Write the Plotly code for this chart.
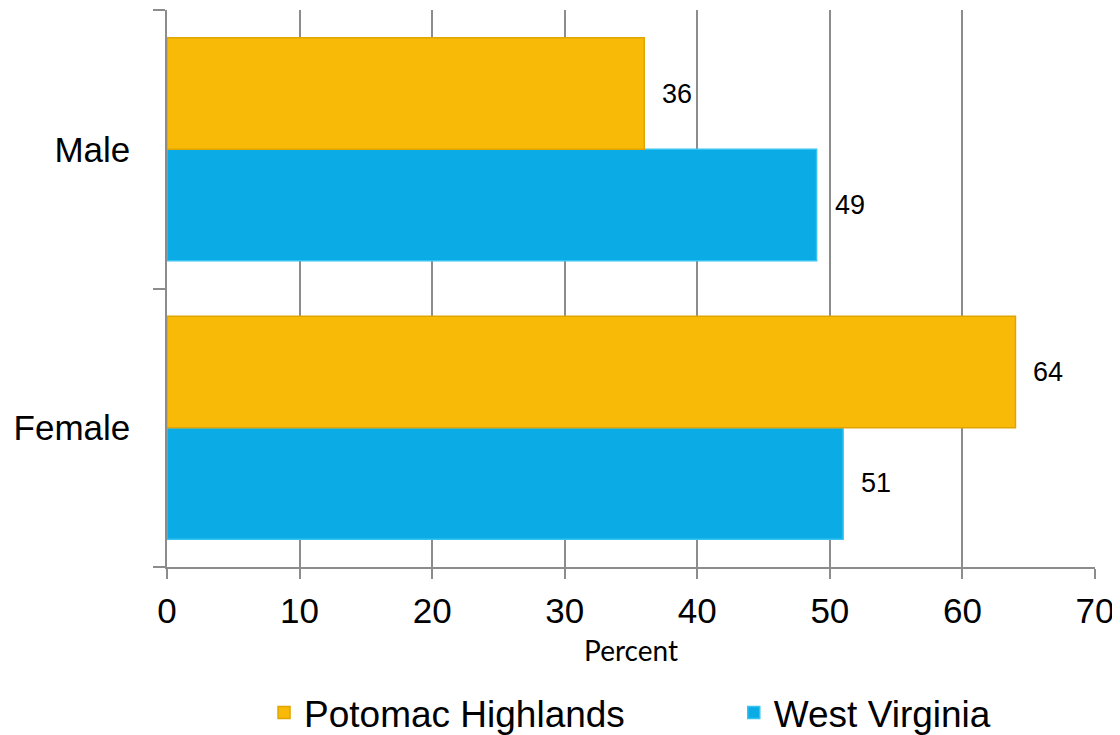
import plotly.graph_objects as go

categories = ["Female", "Male"]
potomac = [64, 36]
west_virginia = [51, 49]
x_ticks = [0, 10, 20, 30, 40, 50, 60, 70]

GOLD = "#F8BA06"
BLUE = "#0BABE6"
FONT = "Liberation Sans, Arial, sans-serif"

fig = go.Figure()
fig.add_trace(go.Bar(
    y=categories, x=west_virginia, orientation="h", name="West Virginia",
    marker=dict(color=BLUE, line=dict(color="#35C3F2", width=1.5)),
    legend="legend2",
))
fig.add_trace(go.Bar(
    y=categories, x=potomac, orientation="h", name="Potomac Highlands",
    marker=dict(color=GOLD, line=dict(color="#E0A500", width=1.5)),
    legend="legend",
))

# value labels: Potomac bar sits at index+0.2, West Virginia at index-0.2
for i, c in enumerate(categories):
    fig.add_annotation(x=potomac[i], y=i + 0.2, text=str(potomac[i]), showarrow=False,
                       xanchor="left", xshift=16,
                       font=dict(size=27, color="black", family=FONT))
    fig.add_annotation(x=west_virginia[i], y=i - 0.2, text=str(west_virginia[i]), showarrow=False,
                       xanchor="left", xshift=16,
                       font=dict(size=27, color="black", family=FONT))

legend_common = dict(orientation="h", xref="container", yref="container",
                     xanchor="left", y=0.041, yanchor="middle",
                     font=dict(size=37, family=FONT))

fig.update_layout(
    width=1120, height=735,
    margin=dict(l=159, r=33, t=2, b=176, autoexpand=False),
    plot_bgcolor="white", paper_bgcolor="white",
    barmode="group", bargap=0.2, bargroupgap=0,
    font=dict(family=FONT, color="black"),
    showlegend=True,
    legend=dict(x=0.2286, **legend_common),
    legend2=dict(x=0.648, **legend_common),
)
fig.update_xaxes(
    range=[0, 70], tickvals=x_ticks, ticktext=[str(t) for t in x_ticks],
    showgrid=True, gridcolor="#8C8C8C", gridwidth=1.5,
    showline=True, linecolor="#8C8C8C", linewidth=1.5,
    ticks="outside", ticklen=10, tickcolor="#8C8C8C", tickwidth=1.5,
    tickfont=dict(size=35, family=FONT), zeroline=False, ticklabelstandoff=2,
    title=dict(text="Percent", font=dict(size=28, family="Lato, Open Sans, sans-serif"), standoff=13),
)
fig.update_yaxes(
    showline=True, linecolor="#8C8C8C", linewidth=1.5,
    ticks="outside", ticklen=12, tickcolor="#8C8C8C", tickwidth=1.5,
    tickson="boundaries", showgrid=False,
    tickfont=dict(size=35, family=FONT), ticklabelstandoff=28,
)

fig.write_html("out.html")
